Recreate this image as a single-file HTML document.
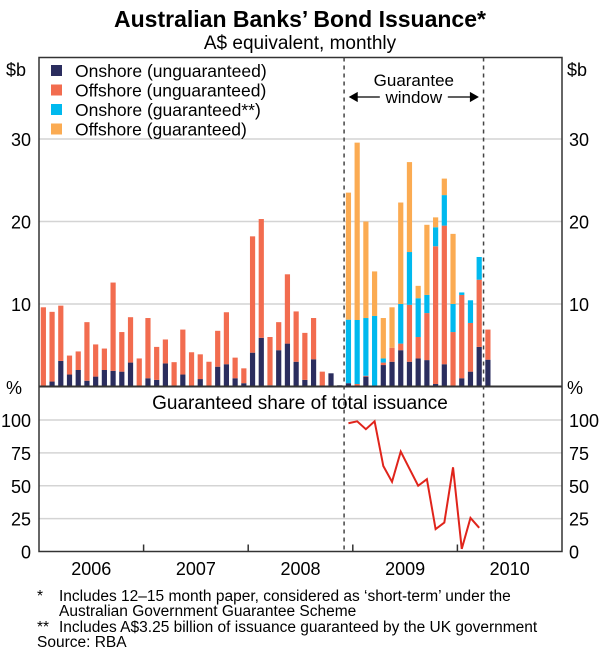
<!DOCTYPE html>
<html><head><meta charset="utf-8">
<style>
body{margin:0;background:#fff;}
svg{display:block;font-family:"Liberation Sans",Arial,sans-serif;}
</style></head>
<body>
<svg id="chart" width="600" height="653" viewBox="0 0 600 653">
  <text x="300" y="27" text-anchor="middle" font-size="23" font-weight="bold">Australian Banks’ Bond Issuance*</text>
  <text x="300" y="49" text-anchor="middle" font-size="19">A$ equivalent, monthly</text>
  <g id="grid"></g>
  <g id="bars"></g>
  <g id="line"></g>
  <g id="frame"></g>
  <g id="legend"></g>
  <g id="notes" font-size="15.5">
    <text x="37" y="601">*</text>
    <text x="59" y="601">Includes 12–15 month paper, considered as ‘short-term’ under the</text>
    <text x="59" y="616">Australian Government Guarantee Scheme</text>
    <text x="37" y="632">**</text>
    <text x="59" y="632">Includes A$3.25 billion of issuance guaranteed by the UK government</text>
    <text x="37" y="647">Source: RBA</text>
  </g>
</svg>
<script>
// ---- data ----
const years = ["2006","2007","2008","2009","2010"];
const onshoreUnguar = [0,0.6,3.1,1.45,2.0,0.7,1.2,2.0,1.9,1.8,2.9,0,
  1.0,0.8,2.8,0,1.45,0,0.9,0,2.4,2.7,1.0,0.4,
  4.1,5.9,0.15,4.4,5.2,3.0,0.8,3.3,0,1.6,0.15,0.4,
  0,1.2,0,2.6,3.0,4.4,3.0,3.4,3.2,0.3,2.7,0,
  1.0,1.8,4.8,3.25];
const offshoreUnguar = [9.6,8.45,6.7,2.3,2.25,7.1,3.9,2.6,10.7,4.8,5.5,3.4,
  7.3,4.0,2.9,2.95,5.45,4.15,3.0,3.0,4.35,6.3,2.5,1.8,
  14.1,14.4,5.85,3.4,8.4,6.1,5.7,5.0,1.8,0,0,0,
  0.3,0.1,0.1,0.3,1.7,0.8,6.9,2.6,5.7,16.7,16.8,6.6,
  10.1,5.9,8.15,3.65];
const onshoreGuar = [0,0,0,0,0,0,0,0,0,0,0,0,
  0,0,0,0,0,0,0,0,0,0,0,0,
  0,0,0,0,0,0,0,0,0,0,0,7.7,
  7.76,7.0,8.45,0.5,0,4.8,6.4,4.7,2.2,2.3,3.7,3.4,
  0.3,2.75,2.75,0];
const offshoreGuar = [0,0,0,0,0,0,0,0,0,0,0,0,
  0,0,0,0,0,0,0,0,0,0,0,0,
  0,0,0,0,0,0,0,0,0,0,0,15.4,
  21.5,11.7,5.4,4.9,4.9,12.3,10.9,1.5,8.5,1.2,2.0,8.5,
  0,0,0,0];
const shareMonths = [35,36,37,38,39,40,41,42,43,44,45,46,47,48,49,50];
const shareValues = [97.5,99,93,99,65,53,76,63,50,55,17,22,64,2,25.5,18];
const leftTicks = [10,20,30];
const pctTicks = [0,25,50,75,100];
const windowStart = 35, windowEnd = 51;

// ---- geometry ----
const X0=39, X1=562, NM=60, MW=(X1-X0)/NM;
const TOP=57.5, Y0=386.5, SC=8.25;
const P100=420, P0=551.5;
const xm = i => X0 + (i+0.5)*MW;
const xb = i => X0 + i*MW;
const yb = v => Y0 - v*SC;
const yp = v => P0 - (P0-P100)*v/100;
const NS="http://www.w3.org/2000/svg";
function mk(tag, attrs, parent){const e=document.createElementNS(NS,tag);for(const k in attrs)e.setAttribute(k,attrs[k]);parent.appendChild(e);return e;}
const grid=document.getElementById('grid'), bars=document.getElementById('bars'),
      lineG=document.getElementById('line'), frame=document.getElementById('frame'), legend=document.getElementById('legend');

leftTicks.forEach(v=>{
  const l=mk('line',{x1:X0,x2:X1,y1:yb(v),y2:yb(v),stroke:'#d4d4d4','stroke-width':1.5},grid);
  
  
  const t1=mk('text',{x:31,y:yb(v)+7,'text-anchor':'end','font-size':18},grid); t1.textContent=v;
  
  
  const t2=mk('text',{x:569,y:yb(v)+7,'font-size':18},grid); t2.textContent=v;
  
  
});
pctTicks.forEach(v=>{
  if(v>0){const l=mk('line',{x1:X0,x2:X1,y1:yp(v),y2:yp(v),stroke:'#d4d4d4','stroke-width':1.5},grid);
  
  }
  const t1=mk('text',{x:31,y:yp(v)+7,'text-anchor':'end','font-size':18},grid); t1.textContent=v;
  
  
  const t2=mk('text',{x:569,y:yp(v)+7,'font-size':18},grid); t2.textContent=v;
  
  
});
[['$b',6,76,'left-unit'],['$b',567,76,'right-unit'],['%',6,394,'left-pct-unit'],['%',567,394,'right-pct-unit']].forEach(a=>{
  const t=mk('text',{x:a[1],y:a[2],'font-size':18},grid); t.textContent=a[0];
  
  
});

const series=[[onshoreUnguar,'#2b2d5e','onshore-unguaranteed'],[offshoreUnguar,'#f26c4f','offshore-unguaranteed'],[onshoreGuar,'#00b9ee','onshore-guaranteed'],[offshoreGuar,'#fbab52','offshore-guaranteed']];
const bw=5.2;
for(let i=0;i<onshoreUnguar.length;i++){
  let acc=0;
  series.forEach(s=>{
    const v=s[0][i]; if(v<=0) return;
    const r=mk('rect',{x:xm(i)-bw/2,y:yb(acc+v),width:bw,height:v*SC,fill:s[1]},bars);
    
    
    acc+=v;
  });
}

const pts=shareMonths.map((m,k)=>xm(m)+','+yp(shareValues[k])).join(' ');
const pl=mk('polyline',{points:pts,fill:'none',stroke:'#e0241b','stroke-width':2,'stroke-linejoin':'miter'},lineG);



const fr=mk('rect',{x:X0,y:TOP,width:X1-X0,height:P0-TOP,fill:'none',stroke:'#333','stroke-width':1.5},frame);


const ax=mk('line',{x1:X0,x2:X1,y1:Y0,y2:Y0,stroke:'#333','stroke-width':2},frame);


for(let k=1;k<years.length;k++){
  const x=xb(k*12);
  const t=mk('line',{x1:x,x2:x,y1:P0,y2:P0-7,stroke:'#333','stroke-width':1.5},frame);
  
  
}
years.forEach((y,k)=>{
  const t=mk('text',{x:xb(k*12+6),y:575,'text-anchor':'middle','font-size':18},frame); t.textContent=y;
  
  
});
[windowStart,windowEnd].forEach((m,k)=>{
  const l=mk('line',{x1:xb(m),x2:xb(m),y1:TOP,y2:P0,stroke:'#444','stroke-width':1.5,'stroke-dasharray':'4,4'},frame);
  
  
});
const gx=(xb(windowStart)+xb(windowEnd))/2;
const ga=mk('text',{x:gx,y:86,'text-anchor':'middle','font-size':17},frame); ga.textContent='Guarantee';


const arr=mk('path',{d:`M${xb(windowStart)+6},97 H${xb(windowEnd)-6} M${xb(windowStart)+6},97 l7,-4 v8 z M${xb(windowEnd)-6},97 l-7,-4 v8 z`,stroke:'#000','stroke-width':1.3,fill:'#000'},frame);


const gb2=mk('rect',{x:gx-34,y:88,width:68,height:18,fill:'#fff'},frame);


const gw=mk('text',{x:gx,y:103,'text-anchor':'middle','font-size':17},frame); gw.textContent='window';


const st=mk('text',{x:300,y:409,'text-anchor':'middle','font-size':19},frame); st.textContent='Guaranteed share of total issuance';



const labels=['Onshore (unguaranteed)','Offshore (unguaranteed)','Onshore (guaranteed**)','Offshore (guaranteed)'];
series.forEach((s,k)=>{
  const y=71+k*19.5;
  const r=mk('rect',{x:51,y:y-6,width:11,height:11,fill:s[1]},legend);
  
  
  const t=mk('text',{x:75,y:y+6,'font-size':17.5},legend); t.textContent=labels[k];
  
  
});
</script>
</body></html>
